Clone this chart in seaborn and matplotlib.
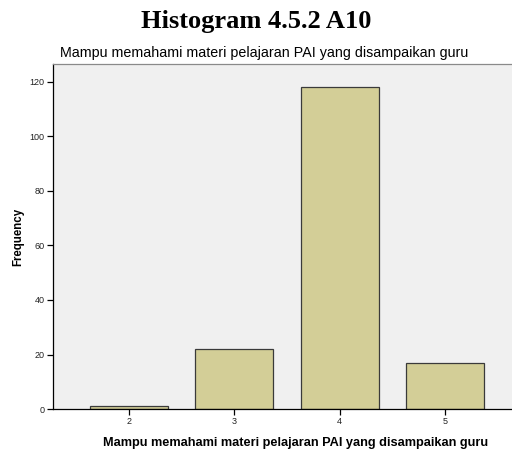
import matplotlib
matplotlib.use('Agg')
import matplotlib.pyplot as plt
import seaborn as sns
import pandas as pd

# response categories and their counts
scores = [2, 3, 4, 5]
counts = [1, 22, 118, 17]
var_label = 'Mampu memahami materi pelajaran PAI yang disampaikan guru'

df = pd.DataFrame({'score': scores, 'count': counts})

sns.set_style('white', {'xtick.bottom': True, 'ytick.left': True,
                        'text.color': 'black', 'axes.labelcolor': 'black',
                        'xtick.color': 'black', 'ytick.color': 'black'})
plt.rcParams['font.family'] = ['Liberation Sans', 'DejaVu Sans']

fig = plt.figure(figsize=(5.12, 4.5), dpi=100)
ax = fig.add_axes([0.1035, 0.0911, 0.92, 0.7667])
ax.set_facecolor('#F0F0F0')

sns.histplot(data=df, x='score', weights='count', discrete=True, shrink=0.74,
             color='#D3CE97', edgecolor='#3A3A3A', linewidth=0.9, alpha=1, ax=ax)

ax.set_xlim(1.28, 5.75)
ax.set_ylim(0, 126.6)
ax.set_xticks(scores)
ax.set_yticks(range(0, 121, 20))
ax.tick_params(axis='both', which='major', left=True, bottom=True,
               labelsize=6.5, length=4, width=0.9, color='black',
               labelcolor='#222222', pad=2, direction='out')
for s in ['left', 'bottom']:
    ax.spines[s].set_color('black')
    ax.spines[s].set_linewidth(0.9)
for s in ['top', 'right']:
    ax.spines[s].set_color('#8A8A8A')
    ax.spines[s].set_linewidth(0.9)

ax.set_xlabel(var_label, fontsize=9.2, fontweight='bold', labelpad=8)
ax.xaxis.label.set_x(0.516)
ax.set_ylabel('Frequency', fontsize=8.3, fontweight='bold', labelpad=4)
ax.set_title(var_label, fontsize=10.3, pad=5, loc='left', x=0.015)

fig.text(0.5, 0.952, 'Histogram 4.5.2 A10', ha='center', va='center',
         fontsize=19, fontweight='bold', family=['Liberation Serif', 'DejaVu Serif'])

fig.savefig('out.png', dpi=100)
